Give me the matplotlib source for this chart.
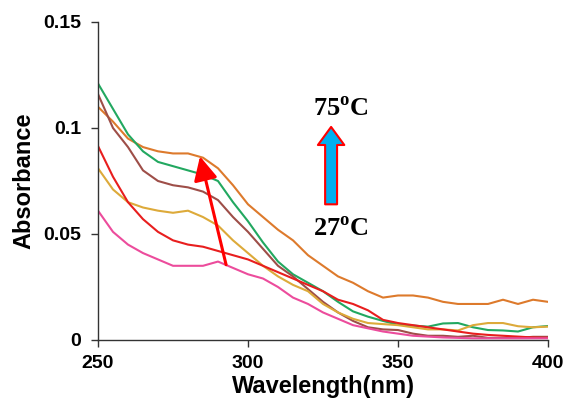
import matplotlib
matplotlib.use("Agg")
import matplotlib.pyplot as plt

plt.rcParams['font.family'] = ['Liberation Sans', 'DejaVu Sans']
plt.rcParams['mathtext.fontset'] = 'custom'
plt.rcParams['mathtext.rm'] = 'Liberation Serif:bold'
plt.rcParams['mathtext.bf'] = 'Liberation Serif:bold'

wavelength = [250, 255, 260, 265, 270, 275, 280, 285, 290, 295, 300, 305, 310, 315, 320,
              325, 330, 335, 340, 345, 350, 355, 360, 365, 370, 375, 380, 385, 390, 395, 400]

orange = [0.110, 0.103, 0.095, 0.091, 0.089, 0.088, 0.088, 0.086, 0.081, 0.073, 0.064, 0.058,
          0.052, 0.047, 0.040, 0.035, 0.030, 0.027, 0.023, 0.020, 0.021, 0.021, 0.020, 0.018,
          0.017, 0.017, 0.017, 0.019, 0.017, 0.019, 0.018]
green = [0.121, 0.109, 0.097, 0.089, 0.084, 0.082, 0.080, 0.078, 0.075, 0.065, 0.056, 0.046,
         0.037, 0.031, 0.027, 0.023, 0.018, 0.0135, 0.011, 0.009, 0.0072, 0.0068, 0.0063, 0.0078,
         0.008, 0.006, 0.0047, 0.0045, 0.004, 0.006, 0.0066]
brown = [0.116, 0.100, 0.091, 0.080, 0.075, 0.073, 0.072, 0.070, 0.066, 0.058, 0.051, 0.043,
         0.035, 0.030, 0.024, 0.018, 0.013, 0.009, 0.006, 0.005, 0.0047, 0.003, 0.002, 0.002,
         0.0015, 0.002, 0.001, 0.001, 0.001, 0.0015, 0.0015]
red = [0.0915, 0.077, 0.065, 0.057, 0.051, 0.047, 0.045, 0.044, 0.042, 0.040, 0.038, 0.035,
       0.032, 0.029, 0.026, 0.023, 0.019, 0.017, 0.014, 0.0095, 0.008, 0.007, 0.006, 0.005,
       0.004, 0.003, 0.0024, 0.002, 0.0016, 0.0012, 0.001]
yellow = [0.081, 0.071, 0.065, 0.0625, 0.061, 0.060, 0.061, 0.058, 0.054, 0.047, 0.041, 0.035,
          0.030, 0.026, 0.023, 0.017, 0.013, 0.010, 0.008, 0.0075, 0.007, 0.006, 0.005, 0.005,
          0.0045, 0.007, 0.008, 0.008, 0.0065, 0.006, 0.0063]
pink = [0.061, 0.051, 0.045, 0.041, 0.038, 0.035, 0.035, 0.035, 0.037, 0.034, 0.031, 0.029,
        0.025, 0.020, 0.017, 0.013, 0.010, 0.007, 0.0055, 0.004, 0.003, 0.002, 0.0016, 0.0012,
        0.001, 0.0008, 0.0008, 0.0008, 0.0008, 0.0008, 0.0008]

series = [
    (orange, '#DD7A2C'),
    (green, '#22A860'),
    (brown, '#9E4E48'),
    (yellow, '#DDAA3A'),
    (red, '#E81E1E'),
    (pink, '#EC4C9C'),
]

x_ticks = [250, 300, 350, 400]
y_ticks = [0, 0.05, 0.1, 0.15]
y_tick_labels = ['0', '0.05', '0.1', '0.15']

fig = plt.figure(figsize=(5.67, 4.07), dpi=100)
ax = fig.add_axes([98 / 567, 1 - 340 / 407, 450 / 567, 318 / 407])

for vals, col in series:
    ax.plot(wavelength, vals, color=col, lw=1.5)

ax.set_xlim(250, 400)
ax.set_ylim(0, 0.15)
ax.set_xticks(x_ticks)
ax.set_yticks(y_ticks)
ax.set_yticklabels(y_tick_labels)
for s in ['top', 'right']:
    ax.spines[s].set_visible(False)
for s in ['left', 'bottom']:
    ax.spines[s].set_color('#333333')
    ax.spines[s].set_linewidth(1.0)
ax.tick_params(axis='both', direction='out', length=5, width=1.0, color='#333333',
               labelsize=14)
ax.tick_params(axis='x', pad=6)
ax.tick_params(axis='y', pad=7)
for lab in ax.get_xticklabels() + ax.get_yticklabels():
    lab.set_fontweight('bold')

ax.set_xlabel('Wavelength(nm)', fontsize=17, fontweight='bold', labelpad=2)
ax.set_ylabel('Absorbance', fontsize=17, fontweight='bold', labelpad=6)

# red arrow
ax.annotate('', xy=(284, 0.0866), xytext=(292.7, 0.0355),
            arrowprops=dict(arrowstyle='-|>,head_length=0.9,head_width=0.45',
                            color='#FF0000', lw=2.2, shrinkA=0, shrinkB=0,
                            mutation_scale=16))

# blue arrow
ax.annotate('', xy=(327.7, 0.1005), xytext=(327.7, 0.064),
            arrowprops=dict(arrowstyle='simple,head_length=0.65,head_width=0.95,tail_width=0.43',
                            fc='#00B0F0', ec='#FF0000', lw=1.5, shrinkA=0, shrinkB=0,
                            mutation_scale=20))

ax.text(331.0, 0.109, r'75$^{\mathbf{o}}$C', fontsize=19, fontweight='bold',
        family='Liberation Serif', ha='center', va='center')
ax.text(331.0, 0.0523, r'27$^{\mathbf{o}}$C', fontsize=19, fontweight='bold',
        family='Liberation Serif', ha='center', va='center')

fig.savefig('out.png', dpi=100)
